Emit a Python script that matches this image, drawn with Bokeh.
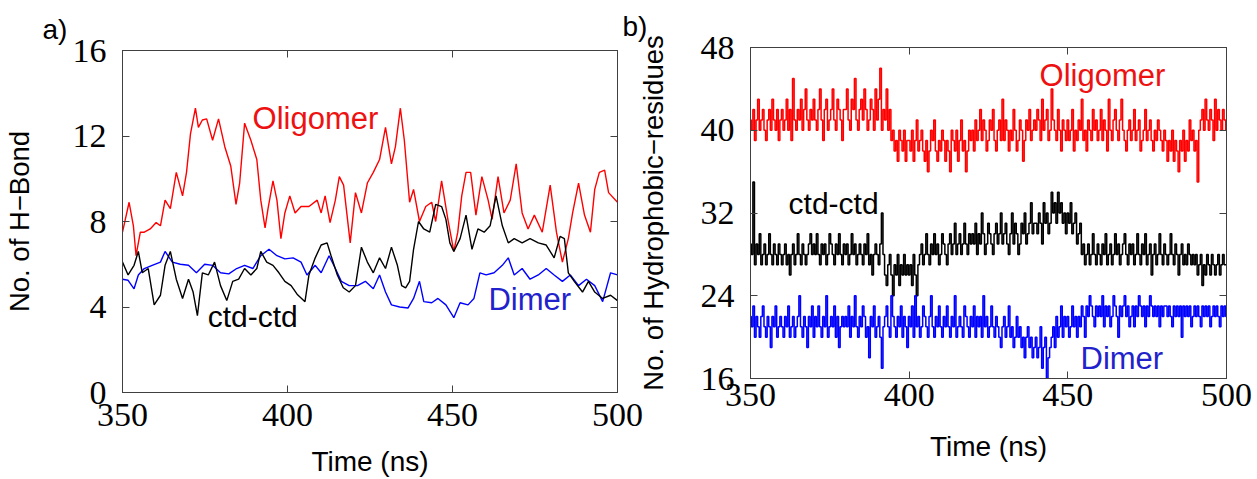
import numpy as np
from bokeh.plotting import figure
from bokeh.models import LinearAxis, FixedTicker, Label, Range1d
from bokeh.embed import file_html
from bokeh.resources import INLINE

# ---------------- panel a) : H-bonds ----------------
x_ticks = [350, 400, 450, 500]
hb_y_ticks = [0, 4, 8, 12, 16]
hp_y_ticks = [16, 24, 32, 40, 48]

olig_hb_t = [350, 352, 353.3, 354.1, 355.4, 356.6, 358.4, 360.2, 361.5, 362.9, 364.5, 366.3, 368.2, 369.4,
             370.6, 372.1, 373, 374.2, 375.5, 377.3, 379.1, 381, 382.8, 384.4, 385.5, 387, 388.9, 390.7,
             391.9, 393.2, 394.1, 395.6, 396.8, 398, 399.2, 400.7, 402.3, 404.1, 406.5, 409, 410.2, 411.4,
             412.9, 414.5, 415.7, 417, 419, 420.6, 422.4, 424.2, 426, 427.9, 429.7, 431.5, 432.7, 434.2,
             435.4, 437, 438.2, 440, 441.9, 443.7, 444.9, 446.7, 448.6, 450.4, 451.6, 452.8, 454.1, 455.5,
             457.1, 458.9, 460.8, 462, 463.8, 465.6, 467.5, 469.3, 471.1, 472.9, 474.8, 477.2, 479.6, 481.5,
             483.3, 485.1, 486.4, 488.2, 490, 491.8, 493.1, 494.5, 496.1, 497.3, 500]
olig_hb = [7.5, 8.9, 7.8, 6.4, 7.5, 7.5, 7.65, 7.95, 7.8, 9.0, 8.6, 10.3, 9.2, 10.3,
           12.1, 13.3, 12.4, 12.75, 12.8, 11.8, 12.8, 11.5, 10.6, 8.8, 9.8, 12.6, 11.8, 10.9,
           9.0, 7.7, 8.6, 9.9, 9.0, 7.2, 8.4, 9.2, 8.4, 8.7, 8.7, 9.0, 8.4, 9.2,
           7.95, 9.0, 10.1, 9.7, 7.0, 9.35, 8.4, 9.8, 10.3, 10.9, 12.4, 10.7, 11.5, 13.3,
           11.8, 8.9, 9.5, 8.0, 8.7, 8.9, 8.0, 9.9, 8.1, 6.6, 7.5, 9.2, 10.3, 10.3,
           8.3, 10.1, 9.0, 8.1, 10.1, 8.4, 9.0, 10.7, 8.4, 7.65, 8.3, 7.5, 9.7, 7.5,
           6.1, 7.2, 8.4, 9.8, 8.3, 7.5, 9.5, 10.3, 10.4, 9.35, 8.9]

ctd_hb_t = [350, 351.7, 353.5, 354.8, 356, 357.8, 359.6, 361.5, 362.9, 364.5, 366.3, 368.2, 370, 371.4,
            372.7, 374.2, 376, 377.9, 379.7, 381.6, 383.4, 385.2, 387, 388.9, 390.7, 391.9, 393.7, 395.6,
            397.4, 399.2, 401.1, 402.9, 405.3, 406.5, 408.4, 410.2, 412, 413.2, 415.1, 416.9, 418.7, 420.6,
            422.4, 424.2, 426, 427.9, 429.7, 431.5, 433.3, 434.6, 435.8, 437, 438.2, 439.7, 441.3, 443.1,
            444.9, 446.7, 448, 449.2, 450.4, 452.3, 454.1, 455.9, 457.7, 459.6, 461.4, 463.2, 465.1, 466.9,
            468.7, 471.1, 473.5, 476, 478.4, 480.8, 482.6, 483.9, 485.1, 486.9, 489.4, 491.2, 493.1, 495.5,
            497.9, 500]
ctd_hb = [6.1, 5.5, 5.95, 6.6, 5.6, 5.8, 4.1, 4.55, 5.95, 6.6, 5.3, 4.4, 5.3, 4.7,
          3.6, 5.6, 5.5, 6.1, 5.0, 4.3, 5.2, 5.3, 5.8, 5.5, 5.8, 6.6, 6.1, 5.95,
          5.6, 5.2, 5.0, 4.6, 4.25, 5.5, 6.3, 6.9, 7.0, 6.4, 5.5, 4.9, 4.7, 5.0,
          6.8, 6.1, 5.6, 6.3, 5.8, 6.8, 5.95, 5.0, 4.9, 5.2, 6.7, 8.0, 7.65, 7.5,
          8.8, 8.7, 8.1, 7.0, 6.6, 7.2, 8.3, 6.7, 7.65, 7.5, 7.8, 9.2, 7.8, 7.0,
          7.2, 7.0, 7.2, 7.0, 6.9, 6.3, 7.3, 7.2, 5.6, 5.2, 4.7, 5.2, 4.7, 4.4,
          4.55, 4.3]

dim_hb_t = [350, 351.7, 353.5, 354.8, 356.6, 359, 361.5, 362.9, 365.1, 367.5, 370, 372.4, 374.9, 377.3,
            379.7, 382.2, 384.6, 387, 389.5, 391.9, 394.4, 396.8, 399.2, 401.7, 404.1, 405.9, 408.4, 410.2,
            412.6, 414.5, 416.3, 418.7, 421.2, 423.6, 426, 427.9, 429.7, 431.5, 434, 436.5, 438.2, 440,
            441.3, 443.7, 445.6, 448, 450.4, 452.3, 454.7, 456.5, 458.3, 460.2, 462.6, 465.1, 466.9, 468.7,
            471.1, 473.5, 476, 478.4, 480.8, 483.3, 485.7, 488.2, 490.6, 493.1, 495.5, 497.9, 500]
dim_hb = [5.3, 5.25, 4.85, 5.5, 5.8, 5.95, 6.1, 6.6, 6.1, 6.0, 5.95, 5.6, 6.0, 5.95,
          5.6, 5.55, 5.8, 5.95, 5.8, 6.4, 6.7, 6.4, 6.25, 6.3, 6.1, 5.5, 5.95, 5.6,
          6.4, 5.8, 5.2, 5.0, 5.0, 5.2, 4.85, 5.5, 4.7, 4.1, 4.0, 3.95, 4.4, 5.2,
          4.25, 4.2, 4.4, 4.1, 3.5, 4.2, 4.1, 4.4, 5.6, 5.5, 5.6, 5.95, 6.3, 5.5,
          5.8, 5.3, 5.5, 5.8, 5.5, 5.2, 5.5, 5.0, 5.3, 5.0, 4.25, 5.6, 5.5]

# ---------------- panel b) : hydrophobic residues (0.5 ns sampling) ----------------
hp_time = np.arange(350, 500.25, 0.5)

olig_hp = [
    41, 40, 42, 39, 41, 43, 40, 41, 42, 40, 39, 41, 42, 40, 43, 41, 40, 42, 39, 41,
    42, 40, 41, 43, 40, 42, 39, 45, 41, 40, 42, 41, 43, 40, 42, 44, 41, 40, 42, 41,
    43, 41, 40, 42, 44, 41, 39, 42, 43, 40, 41, 42, 44, 41, 40, 43, 42, 41, 39, 42,
    42, 44, 41, 40, 43, 42, 45, 41, 40, 42, 43, 41, 44, 42, 40, 41, 43, 42, 40, 44,
    41, 43, 46, 40, 42, 41, 44, 40, 42, 39, 40, 38, 39, 37, 40, 39, 38, 40, 37, 39,
    39, 38, 40, 37, 39, 41, 38, 39, 40, 38, 37, 39, 36, 38, 40, 39, 41, 38, 37, 39,
    38, 40, 39, 37, 39, 38, 36, 40, 39, 38, 40, 37, 39, 41, 38, 39, 36, 38, 40, 39,
    40, 38, 41, 39, 40, 42, 39, 41, 40, 38, 39, 41, 40, 42, 39, 38, 40, 41, 39, 43,
    39, 41, 40, 38, 40, 39, 42, 40, 38, 39, 41, 40, 37, 39, 41, 40, 42, 39, 40, 41,
    40, 42, 41, 39, 43, 40, 41, 42, 39, 40, 44, 41, 40, 39, 42, 40, 38, 41, 40, 39,
    41, 39, 40, 42, 38, 40, 39, 41, 40, 43, 39, 40, 38, 41, 40, 39, 42, 40, 41, 39,
    40, 42, 39, 41, 40, 38, 43, 40, 39, 41, 42, 40, 39, 41, 43, 40, 39, 38, 40, 41,
    39, 40, 42, 39, 40, 41, 38, 39, 40, 42, 39, 40, 41, 39, 38, 40, 39, 41, 40, 39,
    38, 40, 39, 37, 39, 38, 40, 37, 39, 38, 36, 39, 38, 40, 37, 39, 38, 41, 39, 40,
    38, 39, 35, 40, 41, 42, 40, 43, 41, 40, 42, 41, 39, 43, 40, 42, 41, 40, 42, 41,
    40]

ctd_hp = [
    29, 28, 35, 27, 29, 28, 30, 27, 28, 29, 27, 28, 30, 28, 27, 29, 28, 27, 29, 28,
    27, 28, 29, 27, 28, 26, 28, 29, 27, 28, 30, 28, 27, 29, 28, 27, 28, 29, 30, 28,
    29, 28, 30, 28, 27, 29, 28, 29, 27, 28, 30, 29, 28, 27, 29, 28, 30, 28, 27, 29,
    28, 29, 27, 28, 30, 28, 29, 27, 28, 29, 28, 27, 29, 28, 30, 27, 28, 26, 28, 29,
    28, 27, 29, 32, 28, 26, 25, 27, 28, 26, 24, 27, 26, 28, 25, 27, 26, 28, 26, 27,
    26, 27, 25, 28, 26, 24, 27, 28, 29, 27, 28, 30, 28, 27, 29, 28, 30, 28, 29, 27,
    28, 30, 29, 28, 27, 29, 30, 28, 29, 31, 28, 29, 30, 28, 29, 31, 29, 28, 30, 29,
    30, 29, 31, 28, 30, 29, 32, 30, 28, 29, 31, 30, 29, 28, 30, 31, 29, 30, 32, 29,
    30, 31, 29, 28, 30, 32, 29, 31, 30, 28, 29, 31, 30, 32, 29, 30, 31, 33, 30, 31,
    31, 30, 32, 31, 29, 33, 31, 32, 30, 31, 34, 32, 33, 31, 34, 32, 33, 31, 32, 30,
    32, 31, 33, 30, 31, 32, 29, 30, 31, 28, 29, 27, 28, 29, 27, 28, 30, 28, 27, 29,
    28, 27, 29, 28, 30, 27, 28, 29, 27, 28, 30, 28, 29, 27, 28, 29, 30, 28, 27, 29,
    28, 29, 27, 28, 30, 28, 27, 29, 28, 30, 27, 28, 29, 26, 28, 29, 27, 28, 30, 28,
    27, 29, 28, 27, 28, 30, 28, 27, 29, 28, 26, 28, 29, 27, 28, 27, 29, 28, 27, 28,
    27, 28, 26, 27, 28, 25, 27, 26, 28, 27, 26, 28, 27, 26, 27, 28, 26, 27, 28, 27,
    27]

dim_hp = [
    22, 21, 23, 20, 22, 21, 20, 22, 23, 21, 20, 22, 21, 19, 22, 21, 23, 20, 21, 22,
    21, 20, 22, 21, 23, 20, 21, 22, 20, 21, 22, 24, 21, 20, 22, 21, 19, 22, 21, 23,
    20, 22, 21, 23, 21, 20, 22, 21, 24, 20, 21, 22, 21, 23, 20, 22, 19, 21, 22, 21,
    22, 21, 23, 20, 22, 21, 24, 21, 20, 22, 21, 23, 22, 20, 21, 18, 22, 21, 23, 20,
    21, 22, 20, 17, 21, 22, 23, 21, 20, 24, 22, 21, 20, 22, 21, 23, 20, 22, 21, 19,
    22, 21, 23, 20, 24, 21, 22, 20, 21, 23, 22, 21, 20, 22, 24, 21, 20, 22, 21, 23,
    21, 20, 22, 21, 23, 21, 20, 22, 21, 24, 20, 21, 22, 21, 20, 23, 22, 21, 20, 22,
    21, 23, 20, 22, 21, 22, 20, 24, 21, 22, 20, 21, 23, 21, 20, 22, 21, 20, 19, 21,
    22, 20, 21, 23, 20, 21, 19, 20, 22, 20, 21, 19, 20, 18, 20, 21, 19, 20, 18, 19,
    20, 18, 19, 21, 17, 19, 20, 16, 18, 19, 20, 21, 19, 22, 20, 21, 23, 20, 22, 21,
    22, 20, 21, 23, 21, 22, 20, 22, 21, 23, 22, 20, 23, 22, 24, 23, 22, 21, 23, 22,
    23, 22, 24, 21, 23, 22, 23, 21, 22, 24, 23, 22, 20, 23, 22, 23, 24, 22, 23, 21,
    22, 23, 21, 23, 22, 24, 23, 22, 23, 21, 23, 22, 24, 23, 22, 23, 22, 23, 21, 23,
    22, 23, 23, 22, 23, 22, 21, 23, 22, 23, 22, 23, 20, 23, 22, 23, 22, 23, 21, 22,
    23, 22, 23, 22, 21, 23, 22, 23, 22, 23, 21, 22, 23, 22, 23, 22, 21, 23, 22, 23,
    22]

RED = "#ff0000"
BLUE = "#0000ff"
FRAME = "#404040"
SANS = "Liberation Sans"
SERIF = "Liberation Serif"


def style(p, yticks, xlabel, ylabel, panel, panel_offset, title_standoff):
    p.xgrid.visible = False
    p.ygrid.visible = False
    p.outline_line_color = FRAME
    p.outline_line_width = 1
    p.background_fill_color = "white"
    xa = p.below[0]
    ya = p.left[0]
    for ax, ticks in ((xa, x_ticks), (ya, yticks)):
        ax.ticker = FixedTicker(ticks=ticks)
        ax.major_tick_in = 7
        ax.major_tick_out = 0
        ax.minor_tick_line_color = None
        ax.axis_line_color = FRAME
        ax.major_tick_line_color = FRAME
        ax.major_label_text_font = SERIF
        ax.major_label_text_font_size = "34px"
        ax.major_label_text_color = "black"
        ax.axis_label_text_font = SANS
        ax.axis_label_text_font_style = "normal"
        ax.axis_label_text_color = "black"
    xa.axis_label = xlabel
    ya.axis_label = ylabel
    xa.axis_label_text_font_size = "28px"
    ya.axis_label_text_font_size = "27.5px"
    for loc, ticks in (("above", x_ticks), ("right", yticks)):
        m = LinearAxis(ticker=FixedTicker(ticks=ticks), major_tick_in=7, major_tick_out=0,
                       minor_tick_line_color=None, axis_line_color=FRAME,
                       major_tick_line_color=FRAME,
                       major_label_overrides={t: "" for t in ticks},
                       major_label_standoff=0, axis_label_standoff=0)
        p.add_layout(m, loc)
    p.title.text = panel
    p.title.align = "left"
    p.title.offset = panel_offset
    p.title.text_font = SANS
    p.title.text_font_size = "28px"
    p.title.text_font_style = "normal"
    p.title.text_color = "black"
    p.title.standoff = title_standoff
    return xa, ya


# ---------- left figure ----------
p1 = figure(width=657, height=479, x_range=Range1d(350, 500), y_range=Range1d(0, 16),
            output_backend="svg", toolbar_location=None,
            min_border_left=122, min_border_right=40, min_border_top=50, min_border_bottom=85)
xa1, ya1 = style(p1, hb_y_ticks, "Time (ns)", "No. of H\u2212Bond", "a)", -80, 11)
p1.border_fill_color = "white"
xa1.major_label_standoff = 11
xa1.axis_label_standoff = 17
ya1.major_label_standoff = 16
ya1.axis_label_standoff = 35
p1.styles = {"position": "absolute", "left": "0px", "top": "0px"}

p1.line(olig_hb_t, olig_hb, line_color=RED, line_width=1.4)
p1.line(dim_hb_t, dim_hb, line_color=BLUE, line_width=1.4)
p1.line(ctd_hb_t, ctd_hb, line_color="black", line_width=1.4)

p1.add_layout(Label(x=389.4, y=12.8, text="Oligomer", text_font=SANS, text_font_size="31px",
                    text_color="#ee1111", text_baseline="alphabetic"))
p1.add_layout(Label(x=375.8, y=3.55, text="ctd-ctd", text_font=SANS, text_font_size="30px",
                    text_color="black", text_baseline="alphabetic"))
p1.add_layout(Label(x=460.9, y=4.35, text="Dimer", text_font=SANS, text_font_size="31px",
                    text_color="#2222cc", text_baseline="alphabetic"))

# ---------- right figure ----------
p2 = figure(width=637, height=479, x_range=Range1d(350, 500), y_range=Range1d(16, 48),
            output_backend="svg", toolbar_location=None,
            min_border_left=130, min_border_right=31, min_border_top=47, min_border_bottom=101)
xa2, ya2 = style(p2, hp_y_ticks, "Time (ns)", "No. of Hydrophobic\u2212residues", "b)", -128, 12)
p2.border_fill_alpha = 0
xa2.major_label_standoff = 5
xa2.axis_label_standoff = 22
ya2.major_label_standoff = 16
ya2.axis_label_standoff = 29
p2.styles = {"position": "absolute", "left": "620px", "top": "0px"}

p2.step(hp_time, olig_hp, line_color=RED, line_width=1.5, mode="center")
p2.step(hp_time, ctd_hp, line_color="black", line_width=1.5, mode="center")
p2.step(hp_time, dim_hp, line_color=BLUE, line_width=1.5, mode="center")

p2.add_layout(Label(x=441.1, y=45.3, text="Oligomer", text_font=SANS, text_font_size="31px",
                    text_color="#ee1111", text_baseline="alphabetic"))
p2.add_layout(Label(x=362.0, y=32.9, text="ctd-ctd", text_font=SANS, text_font_size="30px",
                    text_color="black", text_baseline="alphabetic"))
p2.add_layout(Label(x=454.0, y=17.9, text="Dimer", text_font=SANS, text_font_size="31px",
                    text_color="#2222cc", text_baseline="alphabetic"))

open("out.html", "w").write(file_html([p1, p2], INLINE))
